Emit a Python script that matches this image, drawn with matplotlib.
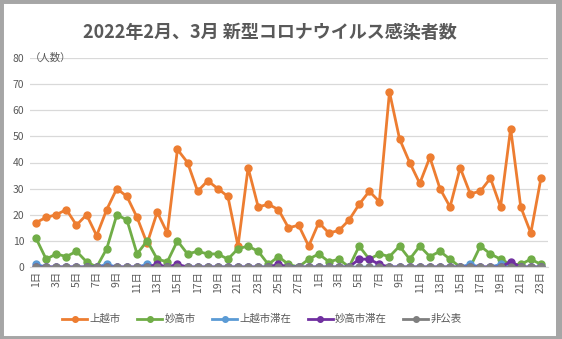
import matplotlib
matplotlib.use("Agg")
import matplotlib.pyplot as plt
from matplotlib.patches import Rectangle

plt.rcParams['font.family'] = ['Noto Sans CJK JP', 'DejaVu Sans']

feb_days = list(range(1, 29))
mar_days = list(range(1, 24))
day_labels = [f"{d}日" for d in feb_days + mar_days]

joetsu = [17, 19, 20, 22, 16, 20, 12, 22, 30, 27, 19, 9, 21, 13, 45, 40, 29, 33, 30, 27, 8, 38, 23, 24, 22, 15, 16, 8,
          17, 13, 14, 18, 24, 29, 25, 67, 49, 40, 32, 42, 30, 23, 38, 28, 29, 34, 23, 53, 23, 13, 34]
myoko = [11, 3, 5, 4, 6, 2, 0, 7, 20, 18, 5, 10, 3, 2, 10, 5, 6, 5, 5, 3, 7, 8, 6, 1, 4, 1, 0, 3,
         5, 2, 3, 0, 8, 3, 5, 4, 8, 3, 8, 4, 6, 3, 0, 0, 8, 5, 3, 1, 1, 3, 1]
joetsu_stay = [1, 0, 0, 0, 0, 0, 0, 1, 0, 0, 0, 1, 0, 0, 0, 0, 0, 0, 0, 0, 0, 0, 0, 0, 0, 0, 0, 0,
               0, 0, 0, 0, 0, 0, 0, 0, 0, 0, 0, 0, 0, 0, 0, 1, 0, 0, 1, 0, 0, 0, 0]
myoko_stay = [0, 0, 0, 0, 0, 0, 0, 0, 0, 0, 0, 0, 1, 0, 1, 0, 0, 0, 0, 0, 0, 0, 0, 0, 1, 0, 0, 0,
              0, 0, 0, 0, 3, 3, 1, 0, 0, 0, 0, 0, 0, 0, 0, 0, 0, 0, 0, 2, 0, 0, 0]
undisclosed = [0] * 51

series_names = ["上越市", "妙高市", "上越市滞在", "妙高市滞在", "非公表"]
series_values = [joetsu, myoko, joetsu_stay, myoko_stay, undisclosed]
series_colors = ["#ED7D31", "#70AD47", "#5B9BD5", "#7030A0", "#7F7F7F"]

W, H = 562, 339
fig = plt.figure(figsize=(W / 100, H / 100), dpi=100)
fig.patch.set_facecolor("white")

# border
fig.add_artist(Rectangle((0, 0), 1, 1, transform=fig.transFigure, fill=False,
                         edgecolor="#A6A6A6", linewidth=5, zorder=10))
fig.add_artist(Rectangle((556 / W, 0), 6 / W, 1, transform=fig.transFigure,
                         facecolor="#A6A6A6", edgecolor="none", zorder=10))

left, right = 30 / W, 548 / W
bottom, top = 1 - 267 / H, 1 - 58 / H
ax = fig.add_axes([left, bottom, right - left, top - bottom])

x = list(range(len(day_labels)))
for name, vals, col in zip(series_names, series_values, series_colors):
    ax.plot(x, vals, color=col, linewidth=2.0, marker="o", markersize=5,
            label=name, solid_joinstyle="round")

ax.set_xlim(-0.6, 50.7)
ax.set_ylim(0, 80)
ax.set_yticks(range(0, 81, 10))
ax.tick_params(axis="y", length=0, labelsize=7.5, labelcolor="#595959", pad=4)
ax.set_xticks(x[::2])
ax.set_xticklabels(day_labels[::2], rotation=90, fontsize=7.5, color="#595959")
ax.tick_params(axis="x", length=0, pad=3)
ax.grid(axis="y", color="#D9D9D9", linewidth=0.9)
ax.set_axisbelow(True)
for s in ["top", "right", "left"]:
    ax.spines[s].set_visible(False)
ax.spines["bottom"].set_color("#D9D9D9")

ax.text(0.0, 1.0, "（人数）", transform=ax.transAxes, fontsize=7.5, color="#595959",
        ha="left", va="center")

fig.text(270 / W, 1 - 32 / H, "2022年2月、3月 新型コロナウイルス感染者数", fontsize=13,
         fontweight="bold", color="#595959", ha="center", va="center")

fig.legend(loc="center", bbox_to_anchor=(262 / W, 1 - 319 / H), ncol=5, frameon=False,
           fontsize=7.5, handlelength=2.4, columnspacing=1.6, handletextpad=0.2,
           labelcolor="#595959", markerscale=0.8)

fig.savefig("out.png", dpi=100)
